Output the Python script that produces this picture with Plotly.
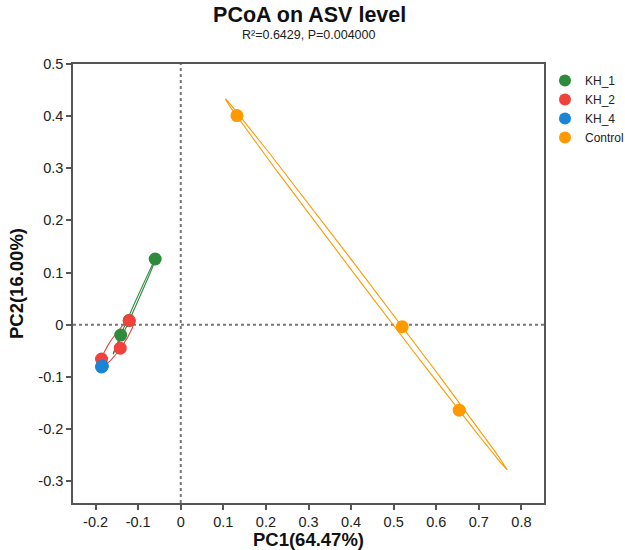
import numpy as np
import plotly.graph_objects as go

groups = ["KH_1", "KH_2", "KH_4", "Control"]
colors = ["#2E8B3E", "#F0413A", "#1A85D6", "#FF9900"]

kh1_pc1 = [-0.060, -0.141, -0.121]
kh1_pc2 = [0.126, -0.020, 0.008]
kh2_pc1 = [-0.121, -0.142, -0.186]
kh2_pc2 = [0.008, -0.045, -0.066]
kh4_pc1 = [-0.185, -0.184, -0.186]
kh4_pc2 = [-0.080, -0.079, -0.081]
control_pc1 = [0.132, 0.520, 0.654]
control_pc2 = [0.401, -0.004, -0.164]

pc1_list = [kh1_pc1, kh2_pc1, kh4_pc1, control_pc1]
pc2_list = [kh1_pc2, kh2_pc2, kh4_pc2, control_pc2]

title = "PCoA on ASV level"
subtitle = "R²=0.6429, P=0.004000"
xlab = "PC1(64.47%)"
ylab = "PC2(16.00%)"
xticks = [-0.2, -0.1, 0, 0.1, 0.2, 0.3, 0.4, 0.5, 0.6, 0.7, 0.8]
yticks = [-0.3, -0.2, -0.1, 0, 0.1, 0.2, 0.3, 0.4, 0.5]


def ellipse(x, y, k=1.22, n=200):
    pts = np.column_stack([x, y])
    c = pts.mean(axis=0)
    cov = np.cov(pts.T)
    vals, vecs = np.linalg.eigh(cov)
    vals = np.clip(vals, 0, None)
    t = np.linspace(0, 2 * np.pi, n)
    circ = np.vstack([np.cos(t), np.sin(t)])
    e = vecs @ (np.sqrt(vals)[:, None] * circ) * k
    return c[0] + e[0], c[1] + e[1]


fig = go.Figure()

for g, col, xs, ys in zip(groups, colors, pc1_list, pc2_list):
    ex, ey = ellipse(xs, ys)
    fig.add_trace(go.Scatter(x=ex, y=ey, mode="lines", line=dict(color=col, width=1.1),
                             showlegend=False, hoverinfo="skip"))

for g, col, xs, ys in zip(groups, colors, pc1_list, pc2_list):
    fig.add_trace(go.Scatter(x=xs, y=ys, mode="markers", name=g,
                             marker=dict(color=col, size=13, line=dict(width=0))))

fig.add_shape(type="line", xref="x", yref="paper", x0=0, x1=0, y0=0, y1=1,
              line=dict(color="#777777", width=2, dash="dot"), layer="below")
fig.add_shape(type="line", xref="paper", yref="y", x0=0, x1=1, y0=0, y1=0,
              line=dict(color="#777777", width=2, dash="dot"), layer="below")

axis_common = dict(showgrid=False, zeroline=False, showline=True, mirror=True,
                   linecolor="#555555", linewidth=1.5, ticks="outside", ticklen=5,
                   tickcolor="#555555", tickwidth=1.5, automargin=False,
                   tickfont=dict(family="Liberation Sans, Arial", size=14.5, color="#222222"))

fig.update_layout(
    width=625, height=550,
    margin=dict(l=73, r=81, t=64, b=47, autoexpand=False),
    plot_bgcolor="white", paper_bgcolor="white",
    font=dict(family="Liberation Sans, Arial", color="#111111"),
    title=dict(text="<b>" + title + "</b>", x=0.4955, xanchor="center",
               y=1 - 14.5 / 550, yanchor="middle", yref="container",
               font=dict(size=21.5, color="#111111")),
    xaxis=dict(range=[-0.253, 0.853], tickvals=xticks,
               ticktext=[f"{v:g}" for v in xticks],
               title=dict(text="<b>" + xlab + "</b>", standoff=4,
                          font=dict(size=18.5, color="#111111")),
               **axis_common),
    yaxis=dict(range=[-0.342, 0.5], tickvals=yticks,
               ticktext=[f"{v:g}" for v in yticks],
               title=dict(text="<b>" + ylab + "</b>", standoff=10,
                          font=dict(size=18.5, color="#111111")),
               **axis_common),
    legend=dict(xref="container", yref="container", x=545 / 625, xanchor="left",
                y=1 - 66 / 550, yanchor="top",
                font=dict(size=12, color="#222222"), itemsizing="constant",
                bgcolor="rgba(0,0,0,0)", tracegroupgap=0),
    annotations=[dict(text=subtitle, xref="paper", yref="paper", x=0.5, y=1 + 29 / 439,
                      xanchor="center", yanchor="middle", showarrow=False,
                      font=dict(size=12.5, color="#222222"))],
)

fig.write_html("out.html", config={"displayModeBar": False},
               post_script="document.body.style.margin='0';document.body.style.overflow='hidden';")
